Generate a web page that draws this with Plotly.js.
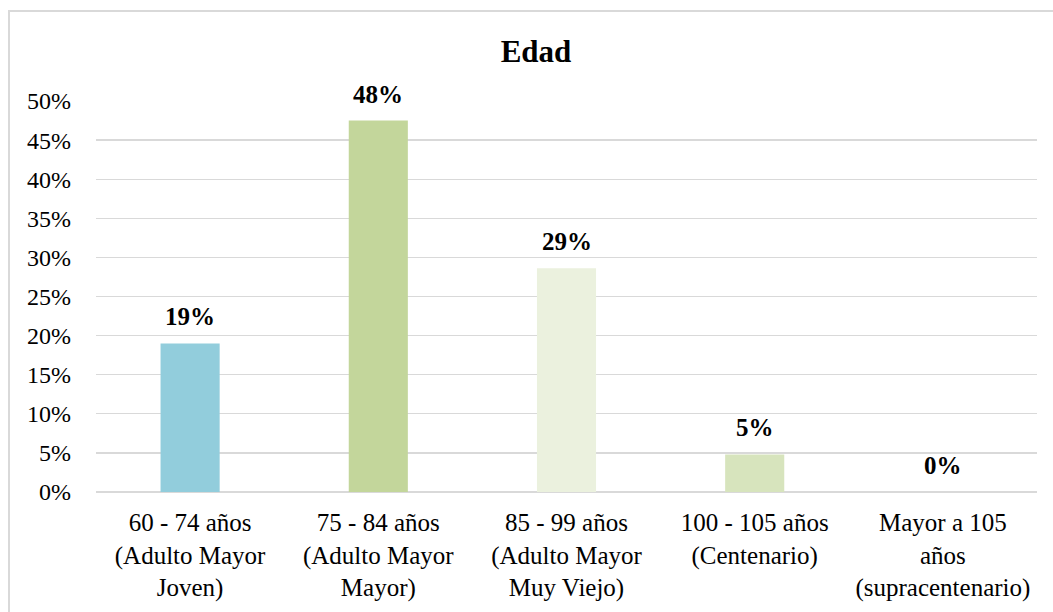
<!DOCTYPE html>
<html>
<head>
<meta charset="utf-8">
<script src="https://cdn.plot.ly/plotly-3.0.1.min.js"></script>
<style>
html,body{margin:0;padding:0;background:#fff;}
#wrap{position:relative;width:1053px;height:612px;overflow:hidden;}
#frame{position:absolute;left:8px;top:10px;width:1100px;height:700px;border-left:2px solid #d9d9d9;border-top:2px solid #d9d9d9;}
#chart{position:absolute;left:0;top:0;width:1053px;height:612px;}
</style>
</head>
<body>
<div id="wrap"><div id="frame"></div><div id="chart"></div></div>
<script>
const categories = [
  "60 - 74 años<br>(Adulto Mayor<br>Joven)",
  "75 - 84 años<br>(Adulto Mayor<br>Mayor)",
  "85 - 99 años<br>(Adulto Mayor<br>Muy Viejo)",
  "100 - 105 años<br>(Centenario)",
  "Mayor a 105<br>años<br>(supracentenario)"
];
const values = [19.0, 47.5, 28.6, 4.8, 0];
const barColors = ["#92CDDC", "#C3D69B", "#EBF1DE", "#D7E4BD", "#D7E4BD"];
const yTicks = [0, 5, 10, 15, 20, 25, 30, 35, 40, 45, 50];

const fam = "Liberation Serif";

const trace = {
  type: "bar",
  x: categories,
  y: values,
  marker: {color: barColors, line: {width: 0}},
  hoverinfo: "none"
};

const annotations = categories.map((c, i) => ({
  x: c, y: values[i], xref: "x", yref: "y",
  text: "<b>" + Math.round(values[i]) + "%</b>",
  showarrow: false, yanchor: "bottom", yshift: 11,
  font: {family: fam, size: 25, color: "#000000"}
}));

const layout = {
  width: 1053, height: 612,
  margin: {l: 96, r: 16, t: 101, b: 120, pad: 0},
  paper_bgcolor: "rgba(0,0,0,0)",
  plot_bgcolor: "rgba(0,0,0,0)",
  bargap: 0.686,
  showlegend: false,
  title: {
    text: "<b>Edad</b>",
    font: {family: fam, size: 31, color: "#000000"},
    xref: "container", x: 0.509, xanchor: "center",
    yref: "container", y: 0.917, yanchor: "middle"
  },
  xaxis: {
    type: "category",
    tickfont: {family: fam, size: 25, color: "#000000"},
    showgrid: false, showline: false, ticks: "",
    ticklabelstandoff: 13,
    fixedrange: true
  },
  yaxis: {
    range: [0, 50],
    tickvals: yTicks,
    ticktext: yTicks.map(v => v + "%"),
    tickfont: {family: fam, size: 24, color: "#000000"},
    showgrid: true, gridcolor: "#d9d9d9", gridwidth: 1.4,
    zeroline: true, zerolinecolor: "#d9d9d9", zerolinewidth: 1.4,
    showline: false, ticks: "",
    ticklabelstandoff: 24,
    fixedrange: true
  },
  annotations: annotations
};

Plotly.newPlot("chart", [trace], layout, {displayModeBar: false, staticPlot: true});
</script>
</body>
</html>
